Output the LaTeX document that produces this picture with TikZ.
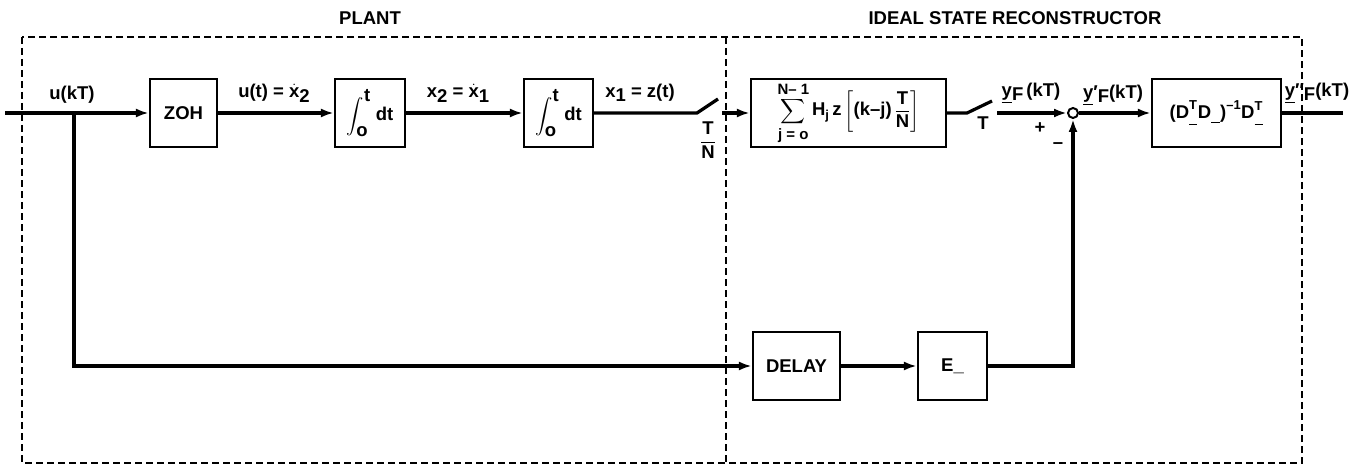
\documentclass[tikz,border=0pt]{standalone}
\usepackage{amsmath}
\usepackage{fontspec}
\setmainfont{Liberation Sans}
\usetikzlibrary{arrows.meta,positioning}
\newcommand{\lowr}[1]{\raisebox{-0.45ex}{#1}}
\newcommand{\xdot}{$\dot{\mbox{x}}$}
\newcommand{\ubar}{\rule[-0.2ex]{0.45em}{0.13ex}}
\newcommand{\limtxt}[1]{\mbox{\fontsize{15}{17}\selectfont #1}}

\begin{document}
\begin{tikzpicture}[x=1pt,y=-1pt,font=\fontsize{18.5}{21}\selectfont\bfseries,line join=miter,
  blk/.style={draw,line width=2.2pt,minimum height=68pt,inner sep=2pt},
  sig/.style={line width=3.2pt},
  arr/.style={sig,-{Latex[length=13pt,width=9pt]}},
  frame/.style={line width=2.6pt,dash pattern=on 7pt off 4pt},
  lbl/.style={inner sep=0pt}]
\useasboundingbox (0,0) rectangle (1362,468);
% frames of the two parts
\draw[frame] (22,37) rectangle (1302,463);
\draw[frame] (726,37) -- (726,463);
\node[lbl] (plant) at (370,18) {PLANT};
\node[lbl] (isr) at (1015,18) {IDEAL STATE RECONSTRUCTOR};
% blocks
\node[blk,minimum width=67pt] (zoh) at (183.5,113) {ZOH};
\node[blk,minimum width=70pt] (int1) at (370,113) {$\displaystyle\int_{\mbox{o}}^{\mbox{t}}$\ dt};
\node[blk,minimum width=69pt] (int2) at (558.5,113) {$\displaystyle\int_{\mbox{o}}^{\mbox{t}}$\ dt};
\node[blk,minimum width=195pt] (sum) at (848.5,113) {$\displaystyle\sum_{\limtxt{j = o}}^{\limtxt{N– 1}}\text{H}_{\text{j}}\,\text{z}\left[\text{(k–j)}\,\frac{\mbox{T}}{\mbox{N}}\right]$};
\node[blk,minimum width=129pt] (dls) at (1216.5,113) {$\text{(D}^{\text{T}}_{\ubar}\text{D}_{\ubar}\text{)}^{\text{–1}}\text{D}^{\text{T}}_{\ubar}$};
\node[blk,minimum width=87pt] (delay) at (796.5,366) {DELAY};
\node[blk,minimum width=69pt] (emat) at (952.5,366) {E\_};
\node[draw,circle,line width=2pt,minimum size=10pt,inner sep=0pt] (junc) at (1073,113) {};
% switch points and free ends
\coordinate (in) at (5,113);
\coordinate (br) at (74,113);
\coordinate (swa) at (697,113);
\coordinate (swb) at (718,99);
\coordinate (swc) at (722,113);
\coordinate (swd) at (967,113);
\coordinate (swe) at (992,101);
\coordinate (swf) at (997,113);
\coordinate (out) at (1343,113);
% signal flow
\draw[arr] (in) -- (zoh);
\draw[arr] (zoh) -- (int1);
\draw[arr] (int1) -- (int2);
\draw[sig] (int2) -- (swa) -- (swb);
\draw[arr] (swc) -- (sum);
\draw[sig] (sum) -- (swd) -- (swe);
\draw[arr] (swf) -- (junc);
\draw[arr] (junc) -- (dls);
\draw[sig] (dls) -- (out);
\draw[arr] (br) |- (delay);
\draw[arr] (delay) -- (emat);
\draw[arr] (emat) -| (junc);
% labels
\node[lbl] at (72,95) {u(kT)};
\node[lbl] at (274,93) {u(t) = \xdot\lowr{2}};
\node[lbl] at (458,93) {x\lowr{2} = \xdot\lowr{1}};
\node[lbl] at (640,93) {x\lowr{1} = z(t)};
\node[lbl] at (708,140) {$\dfrac{\mbox{T}}{\mbox{N}}$};
\node[lbl] at (983,123) {T};
\node[lbl] at (1031,93) {\underline{y}\lowr{F}\,(kT)};
\node[lbl] at (1040,128) {+};
\node[lbl] at (1058,146) {--};
\node[lbl] at (1113,95) {\underline{y}′\lowr{F}(kT)};
\node[lbl] at (1317,93) {\underline{y}″\lowr{F}(kT)};
\end{tikzpicture}
\end{document}
